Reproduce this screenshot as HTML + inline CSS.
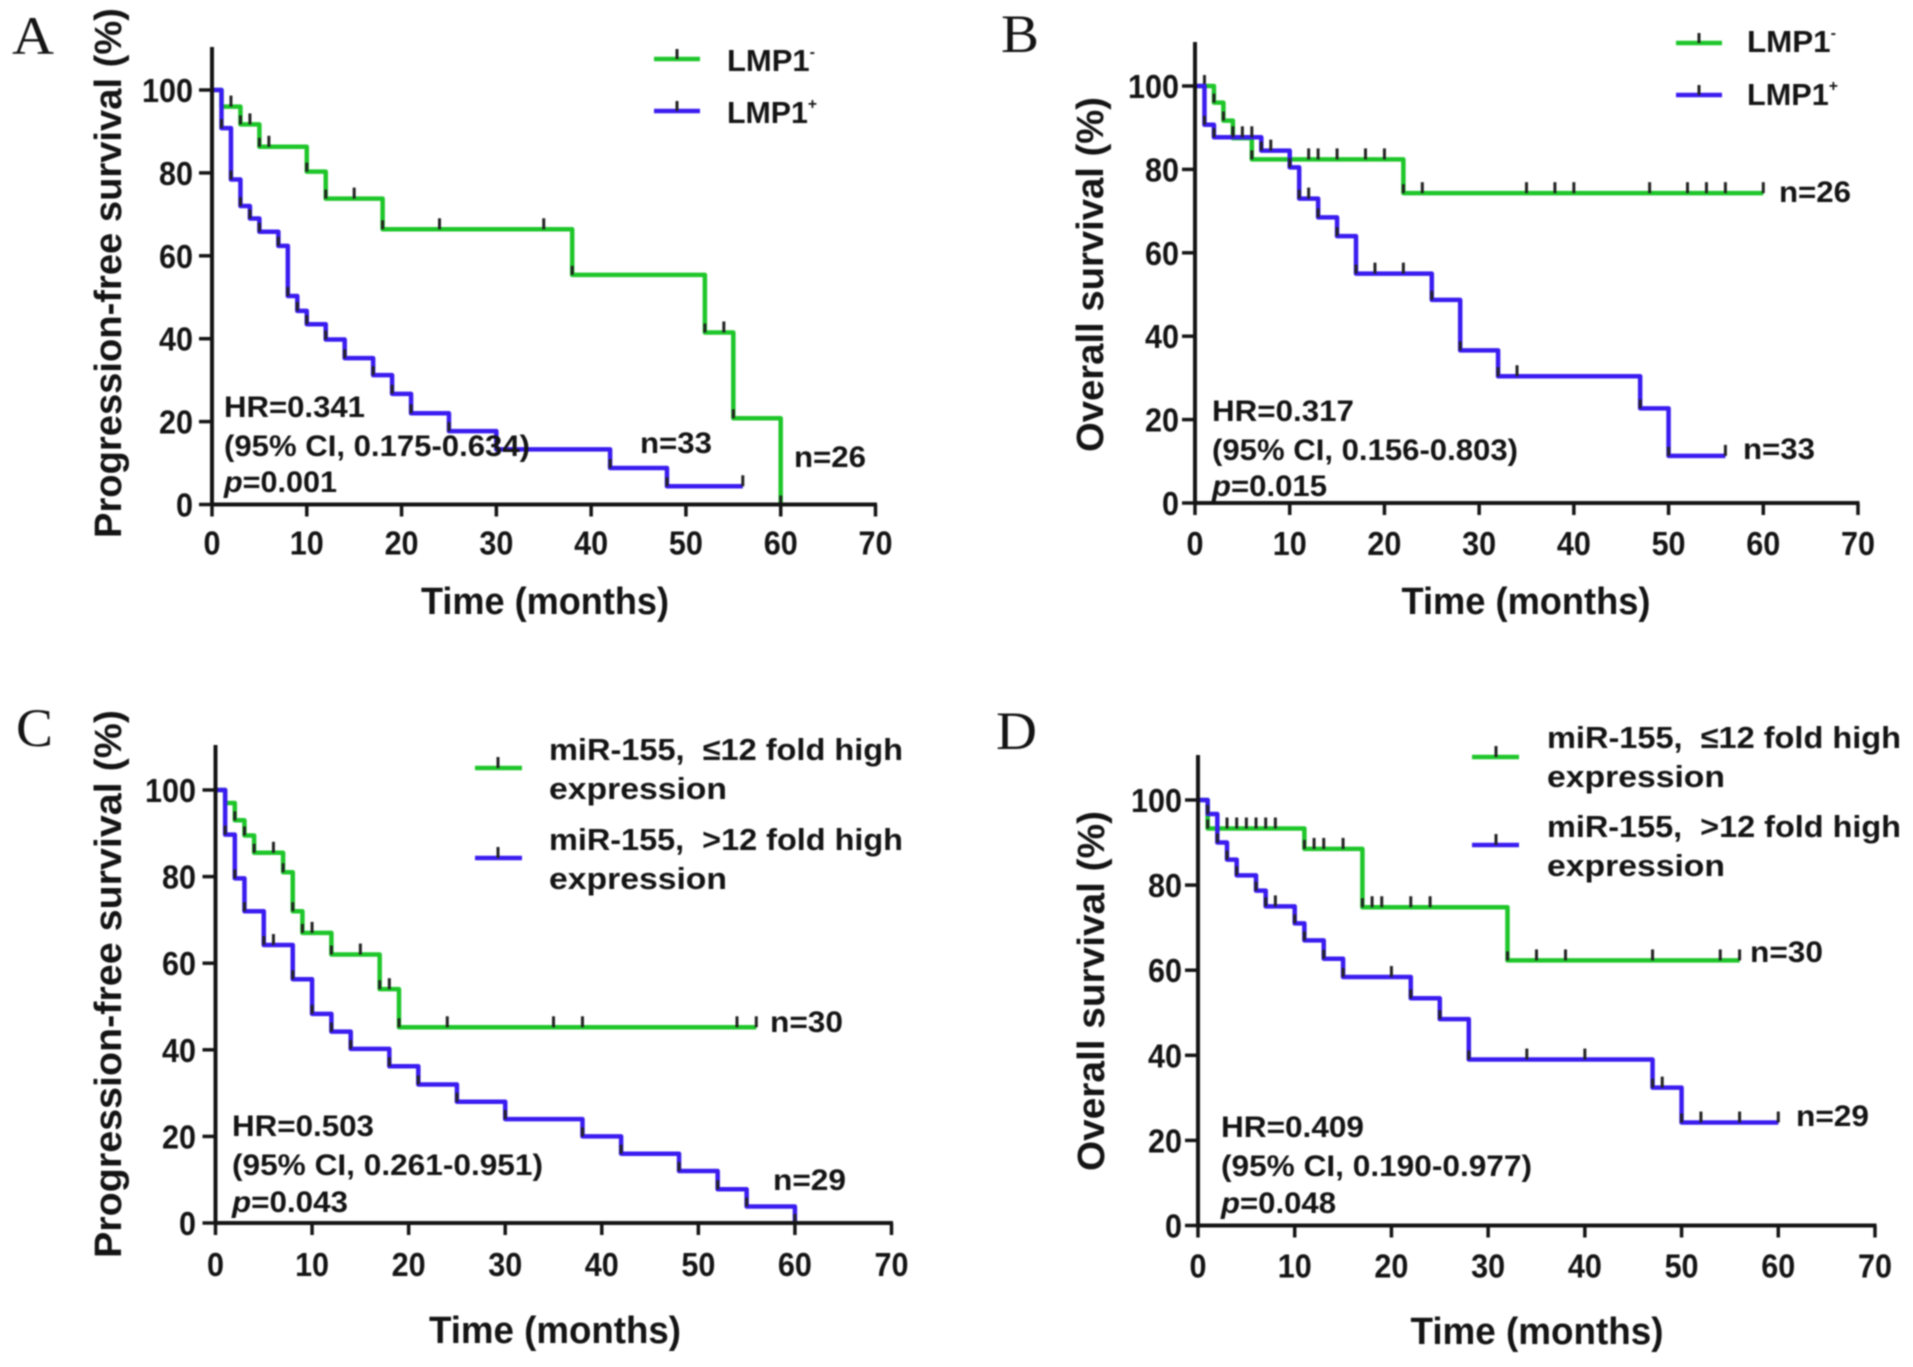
<!DOCTYPE html>
<html lang="en">
<head>
<meta charset="utf-8">
<title>Survival curves by LMP1 and miR-155 status</title>
<style>
  html, body { margin: 0; padding: 0; background: #fff; }
  svg { display: block; filter: blur(0.9px); }
  text { font-family: "Liberation Sans", "DejaVu Sans", sans-serif; font-weight: bold; fill: #141414; }
  .tick-label { font-size: 33px; }
  .axis-title { font-size: 38px; }
  .note { font-size: 30px; }
  .legend-text { font-size: 31px; }
  .letter { font-family: "Liberation Serif", serif; font-weight: normal; font-size: 54px; }
  .leg-g { stroke: #1ec62a; stroke-width: 4.5; }
  .leg-b { stroke: #3a1cf0; stroke-width: 4.5; }
  .leg-t { stroke: #222; stroke-width: 3; }
</style>
</head>
<body>
<svg id="figure" xmlns="http://www.w3.org/2000/svg" width="1913" height="1367" viewBox="0 0 1913 1367">
  <rect width="1913" height="1367" fill="#fff"/>
  <g id="marks"></g>

  <!-- Panel A -->
  <g>
    <text class="letter" x="12" y="54" textLength="42" lengthAdjust="spacingAndGlyphs">A</text>
    <text class="axis-title" transform="translate(121 273) rotate(-90)" text-anchor="middle" textLength="530" lengthAdjust="spacingAndGlyphs">Progression-free survival (%)</text>
    <text class="axis-title" x="545" y="614" text-anchor="middle" textLength="248" lengthAdjust="spacingAndGlyphs">Time (months)</text>
    <text class="note" x="224" y="417" textLength="141" lengthAdjust="spacingAndGlyphs">HR=0.341</text>
    <text class="note" x="224" y="456" textLength="306" lengthAdjust="spacingAndGlyphs">(95% CI, 0.175-0.634)</text>
    <text class="note" x="224" y="492" textLength="113" lengthAdjust="spacingAndGlyphs"><tspan font-style="italic">p</tspan>=0.001</text>
    <text class="note" x="640" y="453" textLength="72" lengthAdjust="spacingAndGlyphs">n=33</text>
    <text class="note" x="794" y="467" textLength="72" lengthAdjust="spacingAndGlyphs">n=26</text>
    <g>
      <g>
        <line class="leg-g" x1="654" x2="700" y1="59" y2="59"/><line class="leg-t" x1="677" x2="677" y1="49" y2="59"/>
        <text class="legend-text" x="727" y="71" textLength="88" lengthAdjust="spacingAndGlyphs">LMP1<tspan font-size="16" dy="-14">-</tspan></text>
      </g>
      <g>
        <line class="leg-b" x1="654" x2="700" y1="111" y2="111"/><line class="leg-t" x1="677" x2="677" y1="101" y2="111"/>
        <text class="legend-text" x="727" y="123" textLength="90" lengthAdjust="spacingAndGlyphs">LMP1<tspan font-size="16" dy="-14">+</tspan></text>
      </g>
    </g>
  </g>

  <!-- Panel B -->
  <g>
    <text class="letter" x="1001" y="52" textLength="38" lengthAdjust="spacingAndGlyphs">B</text>
    <text class="axis-title" transform="translate(1103 274.5) rotate(-90)" text-anchor="middle" textLength="355" lengthAdjust="spacingAndGlyphs">Overall survival (%)</text>
    <text class="axis-title" x="1526" y="614" text-anchor="middle" textLength="249" lengthAdjust="spacingAndGlyphs">Time (months)</text>
    <text class="note" x="1212" y="421" textLength="142" lengthAdjust="spacingAndGlyphs">HR=0.317</text>
    <text class="note" x="1212" y="460" textLength="306" lengthAdjust="spacingAndGlyphs">(95% CI, 0.156-0.803)</text>
    <text class="note" x="1212" y="496" textLength="115" lengthAdjust="spacingAndGlyphs"><tspan font-style="italic">p</tspan>=0.015</text>
    <text class="note" x="1779" y="202" textLength="72" lengthAdjust="spacingAndGlyphs">n=26</text>
    <text class="note" x="1743" y="459" textLength="72" lengthAdjust="spacingAndGlyphs">n=33</text>
    <g>
      <g>
        <line class="leg-g" x1="1676" x2="1722" y1="43" y2="43"/><line class="leg-t" x1="1699" x2="1699" y1="33" y2="43"/>
        <text class="legend-text" x="1747" y="52" textLength="89" lengthAdjust="spacingAndGlyphs">LMP1<tspan font-size="16" dy="-14">-</tspan></text>
      </g>
      <g>
        <line class="leg-b" x1="1676" x2="1722" y1="95" y2="95"/><line class="leg-t" x1="1699" x2="1699" y1="85" y2="95"/>
        <text class="legend-text" x="1747" y="105" textLength="91" lengthAdjust="spacingAndGlyphs">LMP1<tspan font-size="16" dy="-14">+</tspan></text>
      </g>
    </g>
  </g>

  <!-- Panel C -->
  <g>
    <text class="letter" x="16" y="746" textLength="37" lengthAdjust="spacingAndGlyphs">C</text>
    <text class="axis-title" transform="translate(121 984) rotate(-90)" text-anchor="middle" textLength="548" lengthAdjust="spacingAndGlyphs">Progression-free survival (%)</text>
    <text class="axis-title" x="555" y="1343" text-anchor="middle" textLength="252" lengthAdjust="spacingAndGlyphs">Time (months)</text>
    <text class="note" x="232" y="1136" textLength="142" lengthAdjust="spacingAndGlyphs">HR=0.503</text>
    <text class="note" x="232" y="1175" textLength="311" lengthAdjust="spacingAndGlyphs">(95% CI, 0.261-0.951)</text>
    <text class="note" x="232" y="1212" textLength="116" lengthAdjust="spacingAndGlyphs"><tspan font-style="italic">p</tspan>=0.043</text>
    <text class="note" x="770" y="1032" textLength="73" lengthAdjust="spacingAndGlyphs">n=30</text>
    <text class="note" x="773" y="1190" textLength="73" lengthAdjust="spacingAndGlyphs">n=29</text>
    <g>
      <g>
        <line class="leg-g" x1="475" x2="522" y1="768" y2="768"/><line class="leg-t" x1="498" x2="498" y1="757" y2="768"/>
        <text class="legend-text" x="549" y="760" xml:space="preserve" textLength="354" lengthAdjust="spacingAndGlyphs">miR-155,  ≤12 fold high</text>
        <text class="legend-text" x="549" y="799" textLength="178" lengthAdjust="spacingAndGlyphs">expression</text>
      </g>
      <g>
        <line class="leg-b" x1="475" x2="522" y1="858" y2="858"/><line class="leg-t" x1="498" x2="498" y1="847" y2="858"/>
        <text class="legend-text" x="549" y="850" xml:space="preserve" textLength="354" lengthAdjust="spacingAndGlyphs">miR-155,  &gt;12 fold high</text>
        <text class="legend-text" x="549" y="889" textLength="178" lengthAdjust="spacingAndGlyphs">expression</text>
      </g>
    </g>
  </g>

  <!-- Panel D -->
  <g>
    <text class="letter" x="996" y="749" textLength="41" lengthAdjust="spacingAndGlyphs">D</text>
    <text class="axis-title" transform="translate(1104 991) rotate(-90)" text-anchor="middle" textLength="360" lengthAdjust="spacingAndGlyphs">Overall survival (%)</text>
    <text class="axis-title" x="1537" y="1344" text-anchor="middle" textLength="253" lengthAdjust="spacingAndGlyphs">Time (months)</text>
    <text class="note" x="1221" y="1137" textLength="143" lengthAdjust="spacingAndGlyphs">HR=0.409</text>
    <text class="note" x="1221" y="1176" textLength="311" lengthAdjust="spacingAndGlyphs">(95% CI, 0.190-0.977)</text>
    <text class="note" x="1221" y="1213" textLength="115" lengthAdjust="spacingAndGlyphs"><tspan font-style="italic">p</tspan>=0.048</text>
    <text class="note" x="1750" y="962" textLength="73" lengthAdjust="spacingAndGlyphs">n=30</text>
    <text class="note" x="1796" y="1126" textLength="73" lengthAdjust="spacingAndGlyphs">n=29</text>
    <g>
      <g>
        <line class="leg-g" x1="1472" x2="1519" y1="757" y2="757"/><line class="leg-t" x1="1496" x2="1496" y1="746" y2="757"/>
        <text class="legend-text" x="1547" y="748" xml:space="preserve" textLength="354" lengthAdjust="spacingAndGlyphs">miR-155,  ≤12 fold high</text>
        <text class="legend-text" x="1547" y="787" textLength="178" lengthAdjust="spacingAndGlyphs">expression</text>
      </g>
      <g>
        <line class="leg-b" x1="1472" x2="1519" y1="845" y2="845"/><line class="leg-t" x1="1496" x2="1496" y1="834" y2="845"/>
        <text class="legend-text" x="1547" y="837" xml:space="preserve" textLength="354" lengthAdjust="spacingAndGlyphs">miR-155,  &gt;12 fold high</text>
        <text class="legend-text" x="1547" y="876" textLength="178" lengthAdjust="spacingAndGlyphs">expression</text>
      </g>
    </g>
  </g>
</svg>

<script>
// ---- Chart data ----
const xTickValues = [0, 10, 20, 30, 40, 50, 60, 70];
const yTickValues = [0, 20, 40, 60, 80, 100];

const aGreenTimes = [0, 1, 3, 5, 10, 12, 18, 38, 52, 55, 60];
const aGreenSurvival = [100, 96, 91.7, 86.3, 80.3, 73.8, 66.4, 55.4, 41.5, 20.8, 0];
const aGreenCensored = [2, 4, 6, 15, 24, 35, 54];
const aBlueTimes = [0, 1, 2, 3, 4, 5, 7, 8, 9, 10, 12, 14, 17, 19, 21, 25, 30, 42, 48];
const aBlueSurvival = [100, 90.8, 78.4, 72, 69, 65.8, 62.4, 50.3, 46.7, 43.5, 39.8, 35.3, 31.2, 26.7, 22, 17.7, 13.3, 8.8, 4.4];
const aBlueCensored = [56];

const bGreenTimes = [0, 2, 3, 4, 6, 22];
const bGreenSurvival = [100, 96, 91.7, 87.5, 82.4, 74.3];
const bGreenCensored = [1, 12, 13, 15, 18, 20, 24, 35, 38, 40, 48, 52, 54, 56, 60];
const bBlueTimes = [0, 1, 2, 7, 10, 11, 13, 15, 17, 25, 28, 32, 47, 50];
const bBlueSurvival = [100, 90.7, 87.7, 84.5, 80.5, 73, 68.5, 64, 55, 48.7, 36.6, 30.4, 22.7, 11.3];
const bBlueCensored = [4, 5, 6, 8, 12, 19, 22, 34, 56];

const cGreenTimes = [0, 1, 2, 3, 4, 7, 8, 9, 12, 17, 19];
const cGreenSurvival = [100, 97, 93, 89.5, 85.5, 81, 72, 67, 62, 54, 45.2];
const cGreenCensored = [6, 10, 15, 18, 24, 35, 38, 54, 56];
const cBlueTimes = [0, 1, 2, 3, 5, 8, 10, 12, 14, 18, 21, 25, 30, 38, 42, 48, 52, 55, 60];
const cBlueSurvival = [100, 89.7, 79.6, 72, 64.2, 56.3, 48.3, 44.2, 40.2, 36.2, 32, 28, 24, 20, 16, 12, 7.8, 3.8, 0];
const cBlueCensored = [6];

const dGreenTimes = [0, 1, 11, 17, 32];
const dGreenSurvival = [100, 93.3, 88.5, 74.8, 62.3];
const dGreenCensored = [2, 3, 4, 5, 6, 7, 8, 12, 13, 15, 18, 19, 22, 24, 35, 38, 47, 54, 56];
const dBlueTimes = [0, 1, 2, 3, 4, 6, 7, 10, 11, 13, 15, 22, 25, 28, 47, 50];
const dBlueSurvival = [100, 96.7, 90, 86, 82.3, 78.7, 75, 71, 67, 62.7, 58.4, 53.4, 48.5, 39, 32.4, 24.2];
const dBlueCensored = [8, 20, 34, 40, 48, 52, 56, 60];

// ---- Panel frames ----
const panelA = { id: 'a', left: 212, right: 875.5, bottom: 504.5, top100: 90, axisTop: 47, labelRight: 193, labelDrop: 50,
  green: { t: aGreenTimes, s: aGreenSurvival, c: aGreenCensored }, blue: { t: aBlueTimes, s: aBlueSurvival, c: aBlueCensored } };
const panelB = { id: 'b', left: 1195, right: 1858, bottom: 503, top100: 86, axisTop: 42, labelRight: 1179, labelDrop: 52,
  green: { t: bGreenTimes, s: bGreenSurvival, c: bGreenCensored }, blue: { t: bBlueTimes, s: bBlueSurvival, c: bBlueCensored } };
const panelC = { id: 'c', left: 215.5, right: 891.5, bottom: 1223, top100: 790, axisTop: 745, labelRight: 196, labelDrop: 53,
  green: { t: cGreenTimes, s: cGreenSurvival, c: cGreenCensored }, blue: { t: cBlueTimes, s: cBlueSurvival, c: cBlueCensored } };
const panelD = { id: 'd', left: 1198, right: 1875, bottom: 1225.5, top100: 800, axisTop: 755, labelRight: 1182, labelDrop: 52,
  green: { t: dGreenTimes, s: dGreenSurvival, c: dGreenCensored }, blue: { t: dBlueTimes, s: dBlueSurvival, c: dBlueCensored } };

const SVG_NS = 'http://www.w3.org/2000/svg';
const root = document.getElementById('marks');
const GREEN = '#1ec62a';
const BLUE = '#3a1cf0';
const INK = '#141414';

function addLine(parent, x1, y1, x2, y2, color, width) {
  const el = document.createElementNS(SVG_NS, 'line');
  el.setAttribute('x1', x1);
  el.setAttribute('y1', y1);
  el.setAttribute('x2', x2);
  el.setAttribute('y2', y2);
  el.setAttribute('stroke', color);
  el.setAttribute('stroke-width', width);
  parent.appendChild(el);
  return el;
}

function digitWidth(value) {
  return String(value).length * 17;
}

function drawAxes(panel, group, xScale, yScale) {
  const xAxis = addLine(group, panel.left - 1.5, panel.bottom, panel.right + 1.5, panel.bottom, INK, 4);
  
  
  const yAxis = addLine(group, panel.left, panel.axisTop, panel.left, panel.bottom, INK, 4);
  
  

  xTickValues.forEach(function (v) {
    const tick = addLine(group, xScale(v), panel.bottom, xScale(v), panel.bottom + 12, INK, 3.5);
    
    
    const label = document.createElementNS(SVG_NS, 'text');
    label.setAttribute('class', 'tick-label');
    label.setAttribute('x', xScale(v));
    label.setAttribute('y', panel.bottom + panel.labelDrop);
    label.setAttribute('text-anchor', 'middle');
    label.setAttribute('textLength', digitWidth(v));
    label.setAttribute('lengthAdjust', 'spacingAndGlyphs');
    
    
    label.textContent = v;
    group.appendChild(label);
  });

  yTickValues.forEach(function (v) {
    const tick = addLine(group, panel.left - 13, yScale(v), panel.left, yScale(v), INK, 3.5);
    
    
    const label = document.createElementNS(SVG_NS, 'text');
    label.setAttribute('class', 'tick-label');
    label.setAttribute('x', panel.labelRight);
    label.setAttribute('y', yScale(v) + 12);
    label.setAttribute('text-anchor', 'end');
    label.setAttribute('textLength', digitWidth(v));
    label.setAttribute('lengthAdjust', 'spacingAndGlyphs');
    
    
    label.textContent = v;
    group.appendChild(label);
  });
}

function survivalAt(series, time) {
  let value = series.s[0];
  series.t.forEach(function (t, i) {
    if (t <= time) value = series.s[i];
  });
  return value;
}

function drawSeries(series, color, seriesName, group, xScale, yScale) {
  const lastTime = Math.max(series.t[series.t.length - 1], series.c.length ? series.c[series.c.length - 1] : 0);
  let d = 'M' + xScale(series.t[0]) + ' ' + yScale(series.s[0]);
  for (let i = 1; i < series.t.length; i++) {
    d += ' H' + xScale(series.t[i]) + ' V' + yScale(series.s[i]);
  }
  d += ' H' + xScale(lastTime);
  const path = document.createElementNS(SVG_NS, 'path');
  path.setAttribute('d', d);
  path.setAttribute('fill', 'none');
  path.setAttribute('stroke', color);
  path.setAttribute('stroke-width', 4.5);
  path.setAttribute('stroke-linejoin', 'round');
  
  
  group.appendChild(path);

  // small dark stubs sit on top of every drop
  for (let i = 1; i < series.t.length; i++) {
    const stub = addLine(group, xScale(series.t[i]), yScale(series.s[i]) - 9, xScale(series.t[i]), yScale(series.s[i]), '#222', 3);
    
    
  }
  series.c.forEach(function (time) {
    const y = yScale(survivalAt(series, time));
    const mark = addLine(group, xScale(time), y - 11, xScale(time), y, '#222', 3);
    
    
  });
}

[panelA, panelB, panelC, panelD].forEach(function (panel) {
  const group = document.createElementNS(SVG_NS, 'g');
  
  
  root.appendChild(group);
  const xScale = function (t) { return panel.left + (panel.right - panel.left) * t / 70; };
  const yScale = function (v) { return panel.bottom - (panel.bottom - panel.top100) * v / 100; };
  drawSeries(panel.green, GREEN, 'green', group, xScale, yScale);
  drawSeries(panel.blue, BLUE, 'blue', group, xScale, yScale);
  drawAxes(panel, group, xScale, yScale);
});
</script>
</body>
</html>
